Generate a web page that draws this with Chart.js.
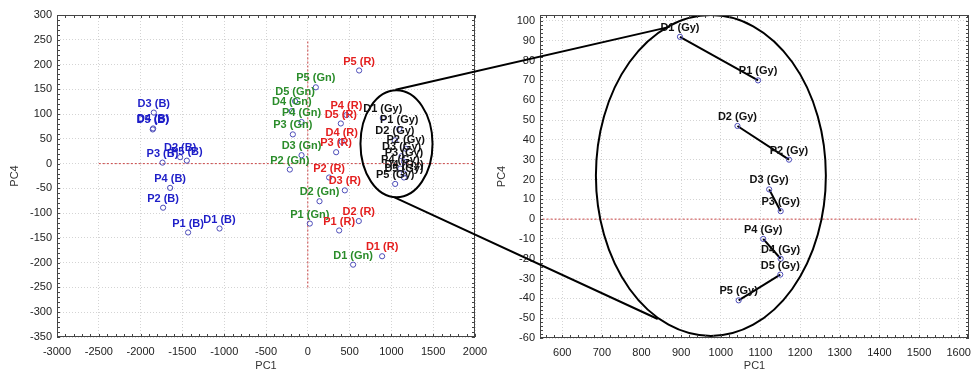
<!DOCTYPE html>
<html lang="en">
<head>
<meta charset="UTF-8" />
<title>PC1 vs PC4 scores</title>
<script src="https://cdn.jsdelivr.net/npm/chart.js"></script>
<style>
  html, body { margin: 0; padding: 0; background: #fff; }
  #wrap { position: relative; width: 974px; height: 375px; overflow: hidden; }
  #leftChart { position: absolute; left: 0; top: 0; }
  #rightChart { position: absolute; left: 487px; top: 0; }
  #overlay { position: absolute; left: 0; top: 0; pointer-events: none; }
</style>
</head>
<body>
<div id="wrap">
  <canvas id="leftChart" width="487" height="375"></canvas>
  <canvas id="rightChart" width="487" height="375"></canvas>
  <canvas id="overlay" width="974" height="375"></canvas>
</div>
<script>
// --- scores (PC1, PC4) ---
const namesB = ['D3 (B)', 'D4 (B)', 'D5 (B)', 'P3 (B)', 'D2 (B)', 'P5 (B)', 'P4 (B)', 'P2 (B)', 'P1 (B)', 'D1 (B)'];
const pc1B = [-1842, -1850, -1855, -1738, -1527, -1447, -1647, -1731, -1432, -1056];
const pc4B = [103, 71, 69, 2, 13, 6, -49, -89, -139, -131];

const namesGn = ['P5 (Gn)', 'D5 (Gn)', 'D4 (Gn)', 'P4 (Gn)', 'P3 (Gn)', 'D3 (Gn)', 'P2 (Gn)', 'D2 (Gn)', 'P1 (Gn)', 'D1 (Gn)'];
const pc1Gn = [96, -152, -191, -75, -179, -75, -215, 140, 24, 542];
const pc4Gn = [154, 126, 106, 84, 59, 17, -12, -76, -121, -204];

const namesR = ['P5 (R)', 'P4 (R)', 'D5 (R)', 'D4 (R)', 'P3 (R)', 'P2 (R)', 'D3 (R)', 'D2 (R)', 'P1 (R)', 'D1 (R)'];
const pc1R = [614, 462, 395, 406, 339, 255, 443, 610, 375, 889];
const pc4R = [188, 98, 81, 44, 23, -28, -54, -116, -135, -187];

const namesGy = ['D1 (Gy)', 'P1 (Gy)', 'D2 (Gy)', 'P2 (Gy)', 'D3 (Gy)', 'P3 (Gy)', 'P4 (Gy)', 'D4 (Gy)', 'D5 (Gy)', 'P5 (Gy)'];
const pc1Gy = [897, 1094, 1042, 1172, 1122, 1151, 1107, 1151, 1150, 1045];
const pc4Gy = [92, 70, 47, 30, 15, 4, -10, -20, -28, -41];

// pairs joined by a line in the zoomed panel
const gyPairs = [['D1 (Gy)', 'P1 (Gy)'], ['D2 (Gy)', 'P2 (Gy)'], ['D3 (Gy)', 'P3 (Gy)'], ['P4 (Gy)', 'D4 (Gy)'], ['D5 (Gy)', 'P5 (Gy)']];

// reference lines at zero
const leftZeroX = [-2500, 2500];   // horizontal line PC4 = 0
const leftZeroY = [-250, 250];     // vertical line PC1 = 0
const rightZeroX = [500, 1500];

// ellipses (data units) and the zoom connectors
const leftEllipse = { cx: 1061, cy: 40, rx: 431, ry: 108 };
const rightEllipse = { cx: 975, cy: 22, rx: 290, ry: 81 };
const zoomFrom = [[1049, 149], [1037, -68]];
const zoomTo = [[871, 97], [841, -50.4]];

Chart.defaults.font.family = '"Liberation Sans", Arial, sans-serif';
Chart.defaults.font.size = 11;
Chart.defaults.color = '#222';

const FONT_LABEL = 'bold 11px "Liberation Sans", Arial, sans-serif';
const CIRCLE = '#4b4bb8';

function pts(xs, ys) { return xs.map((x, i) => ({ x: x, y: ys[i] })); }

function scoreSet(names, xs, ys, color) {
  return { data: pts(xs, ys), pointNames: names, nameColor: color, pointStyle: 'circle', pointRadius: 2.6,
    pointBorderWidth: 1, pointBorderColor: CIRCLE, pointBackgroundColor: 'rgba(0,0,0,0)', showLine: false, order: 1 };
}

function refLine(data) {
  return { data: data, showLine: true, pointRadius: 0, borderColor: '#c44', borderWidth: 1, borderDash: [2, 2], order: 5 };
}

const pointLabels = {
  id: 'pointLabels',
  afterDatasetsDraw(chart) {
    const ctx = chart.ctx;
    ctx.save();
    ctx.font = FONT_LABEL;
    ctx.textAlign = 'center';
    ctx.textBaseline = 'middle';
    chart.data.datasets.forEach((ds, i) => {
      if (!ds.pointNames) return;
      ctx.fillStyle = ds.nameColor;
      chart.getDatasetMeta(i).data.forEach((el, j) => ctx.fillText(ds.pointNames[j], el.x, el.y - 9));
    });
    ctx.restore();
  }
};

const ellipsePlugin = {
  id: 'ellipse',
  afterDatasetsDraw(chart, args, opts) {
    const e = opts.shape;
    if (!e) return;
    const { ctx, chartArea: a, scales: { x, y } } = chart;
    const cx = x.getPixelForValue(e.cx), cy = y.getPixelForValue(e.cy);
    const rx = Math.abs(x.getPixelForValue(e.cx + e.rx) - cx), ry = Math.abs(y.getPixelForValue(e.cy + e.ry) - cy);
    ctx.save();
    ctx.beginPath();
    ctx.rect(a.left, a.top, a.right - a.left, a.bottom - a.top);
    ctx.clip();
    ctx.beginPath();
    ctx.ellipse(cx, cy, rx, ry, 0, 0, Math.PI * 2);
    ctx.strokeStyle = '#000';
    ctx.lineWidth = 2;
    ctx.stroke();
    ctx.restore();
  }
};

const framePlugin = {
  id: 'frame',
  afterDraw(chart, args, opts) {
    const { ctx, chartArea: a, scales: { x, y } } = chart;
    ctx.save();
    ctx.strokeStyle = '#444';
    ctx.lineWidth = 1;
    ctx.strokeRect(a.left + 0.5, a.top + 0.5, a.right - a.left - 1, a.bottom - a.top - 1);
    ctx.beginPath();
    for (let v = Math.ceil(x.min / opts.xMinor) * opts.xMinor; v <= x.max; v += opts.xMinor) {
      const p = Math.round(x.getPixelForValue(v)) + 0.5;
      ctx.moveTo(p, a.bottom); ctx.lineTo(p, a.bottom - 3);
      ctx.moveTo(p, a.top); ctx.lineTo(p, a.top + 3);
    }
    for (let v = Math.ceil(y.min / opts.yMinor) * opts.yMinor; v <= y.max; v += opts.yMinor) {
      const p = Math.round(y.getPixelForValue(v)) + 0.5;
      ctx.moveTo(a.left, p); ctx.lineTo(a.left + 3, p);
      ctx.moveTo(a.right, p); ctx.lineTo(a.right - 3, p);
    }
    ctx.stroke();
    ctx.restore();
  }
};

function evenTicks(step) {
  return s => {
    const out = [];
    for (let v = Math.ceil(s.min / step) * step; v <= s.max + 1e-9; v += step) out.push({ value: v });
    s.ticks = out;
  };
}

function axes(xmin, xmax, xstep, ymin, ymax, ystep, yWidth, xHeight) {
  const common = {
    type: 'linear',
    grid: { color: '#d4d4d4', lineWidth: 1, drawTicks: false },
    border: { display: false, dash: [1, 2] },
    title: { display: true, color: '#333', font: { size: 11 }, padding: { top: 8, bottom: 2 } }
  };
  return {
    x: Object.assign({}, common, {
      min: xmin, max: xmax,
      ticks: { padding: 8, maxRotation: 0, autoSkip: false, callback: v => String(v) },
      title: Object.assign({}, common.title, { text: 'PC1' }),
      afterBuildTicks: evenTicks(xstep),
      afterFit: s => { s.height = xHeight; s.paddingLeft = 0; s.paddingRight = 0; }
    }),
    y: Object.assign({}, common, {
      min: ymin, max: ymax,
      ticks: { padding: 5, autoSkip: false, callback: v => String(v) },
      title: Object.assign({}, common.title, { text: 'PC4' }),
      afterBuildTicks: evenTicks(ystep),
      afterFit: s => { s.width = yWidth; s.paddingTop = 0; s.paddingBottom = 0; }
    })
  };
}

const leftChart = new Chart(document.getElementById('leftChart'), {
  type: 'scatter',
  data: {
    datasets: [
      scoreSet(namesB, pc1B, pc4B, '#1e1ec8'),
      scoreSet(namesGn, pc1Gn, pc4Gn, '#2a8c2a'),
      scoreSet(namesR, pc1R, pc4R, '#e41e1e'),
      scoreSet(namesGy, pc1Gy, pc4Gy, '#111'),
      refLine(leftZeroX.map(v => ({ x: v, y: 0 }))),
      refLine(leftZeroY.map(v => ({ x: 0, y: v })))
    ]
  },
  options: {
    responsive: false, animation: false, devicePixelRatio: 1,
    layout: { padding: { left: 0, top: 15, right: 12, bottom: 0 } },
    plugins: { legend: { display: false }, tooltip: { enabled: false },
      ellipse: { shape: leftEllipse }, frame: { xMinor: 100, yMinor: 10 } },
    scales: axes(-3000, 2000, 500, -350, 300, 50, 57, 38)
  },
  plugins: [ellipsePlugin, pointLabels, framePlugin]
});

function gyPoint(name) { const i = namesGy.indexOf(name); return { x: pc1Gy[i], y: pc4Gy[i] }; }

const pairSets = gyPairs.map(p => ({
  data: [gyPoint(p[0]), gyPoint(p[1])], showLine: true, pointRadius: 0, borderColor: '#000', borderWidth: 2, order: 3
}));

const rightChart = new Chart(document.getElementById('rightChart'), {
  type: 'scatter',
  data: {
    datasets: [scoreSet(namesGy, pc1Gy, pc4Gy, '#111')].concat(pairSets, [refLine(rightZeroX.map(v => ({ x: v, y: 0 })))])
  },
  options: {
    responsive: false, animation: false, devicePixelRatio: 1,
    layout: { padding: { left: 0, top: 15, right: 3, bottom: 0 } },
    plugins: { legend: { display: false }, tooltip: { enabled: false },
      ellipse: { shape: rightEllipse }, frame: { xMinor: 20, yMinor: 2 } },
    scales: axes(544, 1626, 100, -60, 103, 10, 53, 37)
  },
  plugins: [ellipsePlugin, pointLabels, framePlugin]
});

function drawZoomLines() {
  const ctx = document.getElementById('overlay').getContext('2d');
  const off = 487;
  ctx.clearRect(0, 0, 974, 375);
  ctx.strokeStyle = '#000';
  ctx.lineWidth = 2;
  ctx.beginPath();
  zoomFrom.forEach((f, i) => {
    const t = zoomTo[i];
    ctx.moveTo(leftChart.scales.x.getPixelForValue(f[0]), leftChart.scales.y.getPixelForValue(f[1]));
    ctx.lineTo(off + rightChart.scales.x.getPixelForValue(t[0]), rightChart.scales.y.getPixelForValue(t[1]));
  });
  ctx.stroke();
}
drawZoomLines();
</script>
</body>
</html>
